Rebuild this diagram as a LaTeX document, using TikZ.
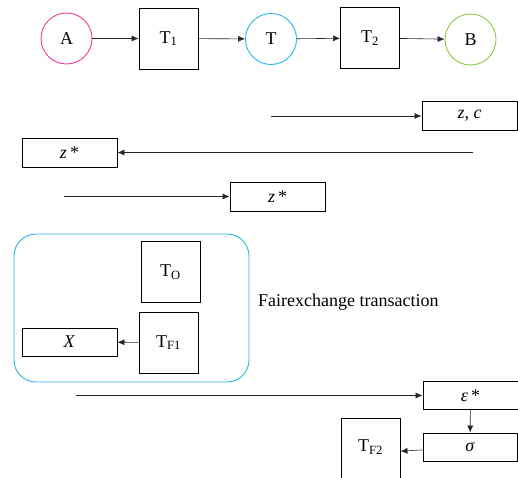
\documentclass[tikz,border=0pt]{standalone}
\usepackage{fontspec}
\setmainfont{Liberation Serif}
\usetikzlibrary{arrows.meta}
\definecolor{cpink}{RGB}{240,60,150}
\definecolor{ccyan}{RGB}{40,180,230}
\definecolor{cgreen}{RGB}{140,200,70}
\tikzset{
  every node/.style={font=\fontsize{18}{21}\selectfont, inner sep=0pt},
  circ/.style={circle, draw, line width=0.9pt, minimum size=51pt},
  sq/.style={rectangle, draw, line width=0.9pt, minimum width=59pt, minimum height=61pt},
  wbox/.style={rectangle, draw, line width=0.9pt, minimum width=95pt, minimum height=29pt},
  arr/.style={draw=black!85, line width=0.6pt, -{Latex[length=7pt,width=6pt]}},
}
\begin{document}
\begin{tikzpicture}[x=1pt,y=-1pt]
\useasboundingbox (0,0) rectangle (518,477);
\clip (0,0) rectangle (518,477);
% top row
\node[circ, draw=cpink] (A) at (66.5,38.5) {A};
\node[sq] (T1) at (168.5,38.5) {T\textsubscript{1}};
\node[circ, draw=ccyan] (T) at (271,39) {T};
\node[sq] (T2) at (370,38) {T\textsubscript{2}};
\node[circ, draw=cgreen] (B) at (470.5,39.5) {B};
\draw[arr] (A) -- (T1);
\draw[arr] (T1) -- (T);
\draw[arr] (T) -- (T2);
\draw[arr] (T2) -- (B);
% message rows
\node[wbox] (zc) at (469.5,116) {\textit{z, c}};
\coordinate (zcs) at (271,116);
\draw[arr] (zcs) -- (zc.west);
\node[wbox] (z1) at (69.5,152.5) {\textit{z}\,*};
\coordinate (z1s) at (473,152.5);
\draw[arr] (z1s) -- (z1.east);
\node[wbox] (z2) at (277.5,196.5) {\textit{z}\,*};
\coordinate (z2s) at (64,196.5);
\draw[arr] (z2s) -- (z2.west);
% fair exchange group
\node[draw=ccyan, line width=0.9pt, rounded corners=22pt, minimum width=235pt, minimum height=148pt] (grp) at (131.5,308) {};
\node[sq] (TO) at (170.5,272) {T\textsubscript{O}};
\node[sq] (TF1) at (168.5,342.5) {T\textsubscript{F1}};
\node[wbox, minimum height=28pt] (X) at (69.5,342) {\textit{X}};
\draw[arr] (TF1) -- (X);
\node[anchor=west] (lbl) at (258,302) {Fairexchange transaction};
% bottom
\node[wbox, minimum height=28pt] (eps) at (470.5,395.5) {\textit{ε}\,*};
\coordinate (epss) at (76,395.5);
\draw[arr] (epss) -- (eps.west);
\node[wbox, minimum width=94pt, minimum height=28pt] (sig) at (470,447) {\textit{σ}};
\draw[arr] (eps) -- (sig);
\node[rectangle, draw, line width=0.9pt, minimum width=59pt, minimum height=70pt] (TF2) at (370.5,453) {};
\node (TF2t) at (370.5,447) {T\textsubscript{F2}};
\draw[arr] (sig) -- (TF2);
\end{tikzpicture}
\end{document}
